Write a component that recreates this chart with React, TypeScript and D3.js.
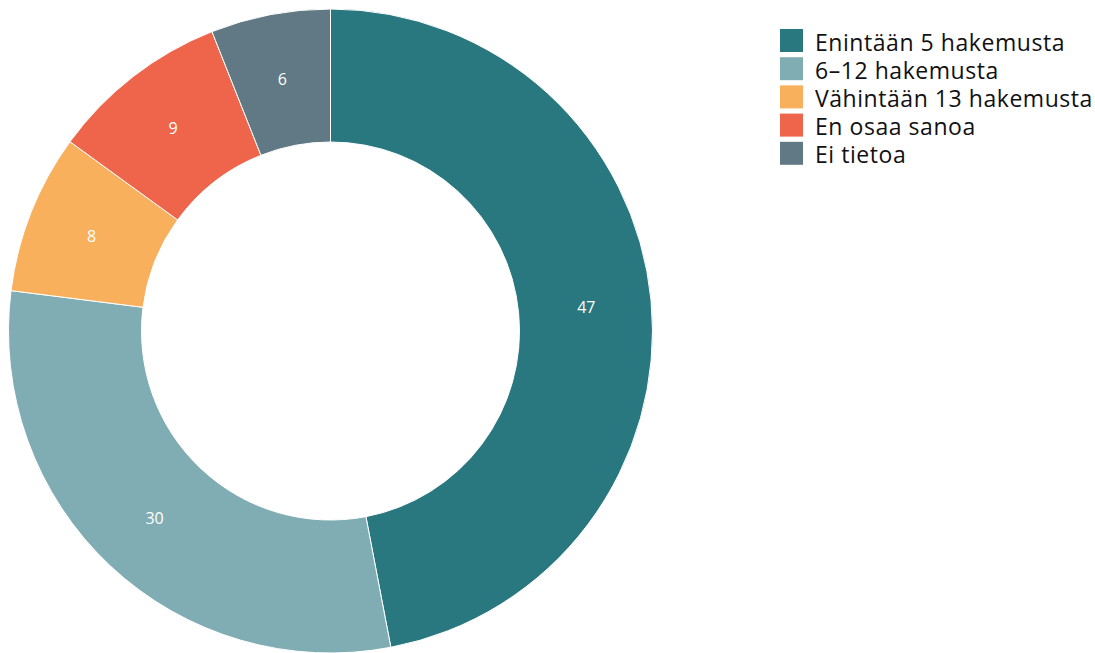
import React from "react";
import * as d3 from "d3";

const categories = ["Enintään 5 hakemusta", "6–12 hakemusta", "Vähintään 13 hakemusta", "En osaa sanoa", "Ei tietoa"];
const values = [47, 30, 8, 9, 6];
const colors = ["#297880", "#80adb3", "#f8b05c", "#ee654b", "#617985"];

export default function App() {
  const width = 1095, height = 653;
  const cx = 330.5, cy = 331, outerR = 322, innerR = 189;
  const pie = d3.pie<number>().sort(null).value((d) => d)(values);
  const arc = d3.arc<d3.PieArcDatum<number>>().innerRadius(innerR).outerRadius(outerR);
  const labelArc = d3.arc<d3.PieArcDatum<number>>().innerRadius(257).outerRadius(257);
  const font = "'Open Sans', 'Noto Sans', sans-serif";
  return (
    <svg width={width} height={height} style={{ position: "absolute", left: 0, top: 0 }}>
      <g transform={`translate(${cx},${cy})`}>
        {pie.map((p, i) => (
          <path key={i} d={arc(p) || ""} fill={colors[i]} stroke="#fff" strokeWidth={1} />
        ))}
        {pie.map((p, i) => {
          const [x, y] = labelArc.centroid(p);
          return (
            <text key={i} x={x} y={y} fill="#fff" fontFamily={font} fontSize={16} textAnchor="middle" dominantBaseline="central">
              {values[i]}
            </text>
          );
        })}
      </g>
      <g transform="translate(780,29)">
        {categories.map((c, i) => (
          <g key={i} transform={`translate(0,${i * 28.2})`}>
            <rect x={0} y={0} width={23} height={23} fill={colors[i]} />
            <text x={35} y={21.5} fontFamily={font} fontSize={23} letterSpacing={0.55} fill="#111">
              {c}
            </text>
          </g>
        ))}
      </g>
    </svg>
  );
}
